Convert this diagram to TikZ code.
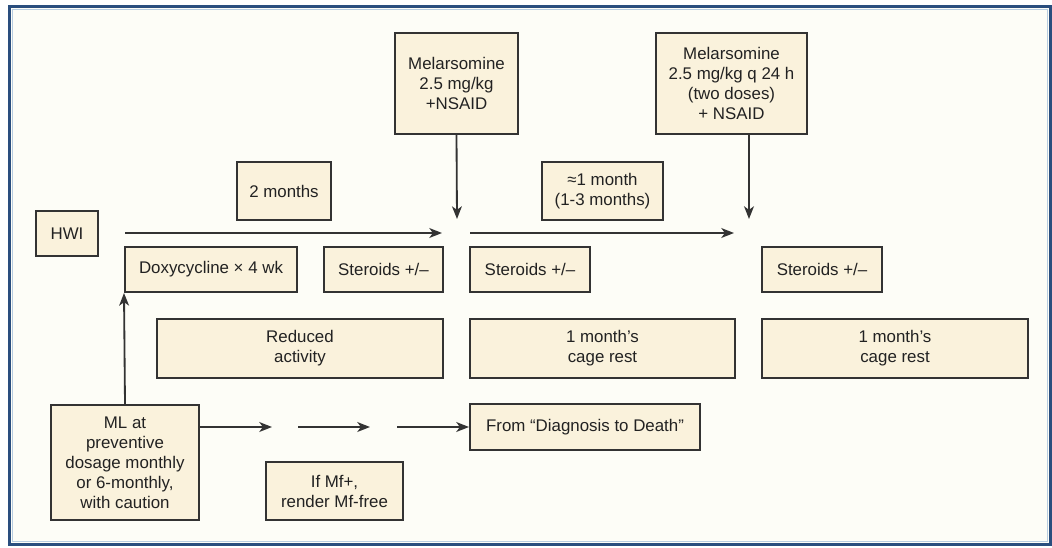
\documentclass[tikz,border=0pt]{standalone}
\usepackage{fontspec}
\setmainfont{Liberation Sans}
\usetikzlibrary{arrows.meta}
\definecolor{hwframe}{HTML}{2A4E7E}
\definecolor{hwrim}{HTML}{B7CCE0}
\definecolor{hwpaper}{HTML}{FDFDF7}
\definecolor{hwbox}{HTML}{FAF2DC}
\definecolor{hwline}{HTML}{333333}
\definecolor{hwtext}{HTML}{222222}

\begin{document}
\begin{tikzpicture}[x=0.025cm, y=-0.025cm,
    font=\fontsize{12}{14.2}\selectfont,
    box/.style={draw=hwline, fill=hwbox, line width=1.4pt, text=hwtext,
                align=center, inner sep=2pt},
    arr/.style={hwline, line width=1.3pt, -{Stealth[length=9pt, width=7pt, inset=2.5pt]}}]
    \useasboundingbox (0,0) rectangle (1052,547);
    % panel
    \fill[white] (0,0) rectangle (1052,547);
    \fill[hwpaper] (11,8) rectangle (1049,543);
    \draw[hwframe, line width=2.6pt] (9.5,6.5) rectangle (1050.5,544.5);
    \draw[hwrim, line width=0.8pt] (12.5,9.5) rectangle (1047.5,541.5);

    % top row
    \node[box, minimum width=1.55cm, minimum height=1.125cm] (hwi) at (67,233.5) {HWI};
    \node[box, minimum width=2.35cm, minimum height=1.45cm] (twomo) at (284,191) {2 months};
    \node[box, minimum width=3.075cm, minimum height=2.525cm] (mel1) at (456.5,83.5)
      {Melarsomine\\2.5 mg/kg\\+NSAID};
    \node[box, minimum width=3.025cm, minimum height=1.45cm] (onemo) at (602.5,191)
      {≈1 month\\(1-3 months)};
    \node[box, minimum width=3.775cm, minimum height=2.525cm] (mel2) at (731.5,83.5)
      {Melarsomine\\2.5 mg/kg q 24 h\\(two doses)\\+ NSAID};

    % drugs
    \node[box, minimum width=4.3cm, minimum height=1.125cm] (doxy) at (211,269.5)
      {Doxycycline × 4 wk};
    \node[box, minimum width=2.975cm, minimum height=1.125cm] (ster1) at (383.5,269.5) {Steroids +/–};
    \node[box, minimum width=3cm, minimum height=1.125cm] (ster2) at (530,269.5) {Steroids +/–};
    \node[box, minimum width=3cm, minimum height=1.125cm] (ster3) at (822,269.5) {Steroids +/–};

    % rest
    \node[box, minimum width=7.15cm, minimum height=1.475cm] (reduced) at (300,348.5)
      {Reduced\\activity};
    \node[box, minimum width=6.625cm, minimum height=1.475cm] (cage1) at (602.5,348.5)
      {1 month’s\\cage rest};
    \node[box, minimum width=6.65cm, minimum height=1.475cm] (cage2) at (895,348.5)
      {1 month’s\\cage rest};

    % bottom
    \node[box, minimum width=3.7cm, minimum height=2.875cm] (ml) at (125,462.5)
      {ML at\\preventive\\dosage monthly\\or 6-monthly,\\with caution};
    \node[box, minimum width=3.425cm, minimum height=1.45cm] (mffree) at (334.5,491)
      {If Mf+,\\render Mf-free};
    \node[box, minimum width=5.75cm, minimum height=1.15cm] (from) at (585,427)
      {From “Diagnosis to Death”};

    \coordinate (s1) at (125,233);
    \coordinate (e1) at (442,233);
    \coordinate (s2) at (470,233);
    \coordinate (e2) at (734,233);
    \coordinate (hit1) at (457,219);
    \coordinate (hit2) at (749,219);
    \coordinate (g1) at (272,427);
    \coordinate (g2) at (298,427);
    \coordinate (g3) at (370,427);
    \coordinate (g4) at (397,427);

    \draw[arr] (s1) -- (e1);
    \draw[arr] (s2) -- (e2);
    \draw[arr] (mel1.south) -- (hit1);
    \draw[arr] (mel2.south -| hit2) -- (hit2);
    \draw[arr] (ml.north) -- (doxy.south west);
    \draw[arr] (ml.east |- from.west) -- (g1);
    \draw[arr] (g2) -- (g3);
    \draw[arr] (g4) -- (from.west);
\end{tikzpicture}
\end{document}
